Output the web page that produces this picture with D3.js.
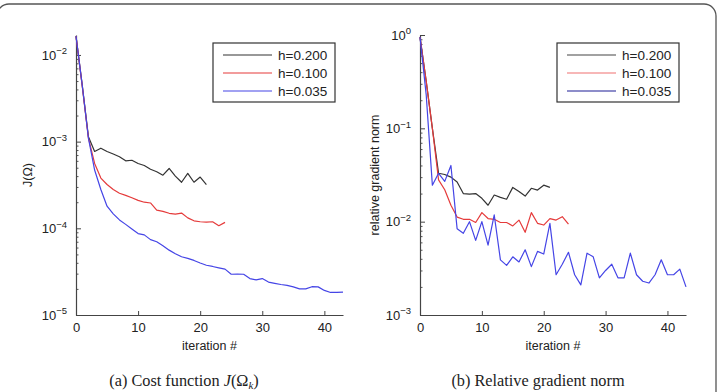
<!DOCTYPE html>
<html>
<head>
<meta charset="utf-8">
<script src="https://cdn.jsdelivr.net/npm/d3@7"></script>
<style>
  body { margin: 0; background: #fff; }
  svg text { font-family: "Liberation Sans", Arial, sans-serif; fill: #222; }
  .caption { font-family: "Liberation Serif", "DejaVu Serif", serif; font-size: 16.3px; }
</style>
</head>
<body>
<svg id="fig"></svg>
<script>
// iteration values start at 0 for every series
const legendLabels = ["h=0.200", "h=0.100", "h=0.035"];
const xTicks = [0, 10, 20, 30, 40];

const costH200 = [0.0165, 0.0045, 0.00114, 0.00077, 0.00084, 0.00077, 0.00072, 0.00067, 0.0006, 0.00061,
  0.00056, 0.00053, 0.00048, 0.00045, 0.00041, 0.00049, 0.0004, 0.00034, 0.00043, 0.00034, 0.00039, 0.00032];
const costH100 = [0.0165, 0.0044, 0.0011, 0.00056, 0.00038, 0.00032, 0.00028, 0.000254, 0.00024, 0.000225,
  0.00021, 0.0002, 0.000196, 0.000162, 0.000157, 0.000149, 0.000146, 0.00015, 0.000132, 0.000122,
  0.000119, 0.000118, 0.000119, 0.000107, 0.000117];
const costH035 = [0.0165, 0.0045, 0.0011, 0.00047, 0.00028, 0.00018, 0.000147, 0.000125, 0.000111, 0.000098,
  0.000087, 0.000084, 0.000074, 0.00007, 0.000063, 0.000056, 0.000051, 0.000047, 0.000045, 0.0000426,
  0.0000398, 0.0000375, 0.0000363, 0.000035, 0.0000338, 0.0000295, 0.0000296, 0.0000295, 0.0000263, 0.0000254,
  0.0000263, 0.000024, 0.0000232, 0.0000225, 0.000022, 0.0000211, 0.00002, 0.00002, 0.0000212, 0.0000211,
  0.0000192, 0.0000182, 0.0000182, 0.0000184];

const gradH200 = [0.95, 0.32, 0.1, 0.033, 0.032, 0.030, 0.0266, 0.020, 0.0197, 0.020,
  0.0178, 0.015, 0.0193, 0.0182, 0.0174, 0.0233, 0.021, 0.0188, 0.0228, 0.0218, 0.0246, 0.0233];
const gradH100 = [0.95, 0.32, 0.1, 0.028, 0.022, 0.015, 0.0112, 0.0106, 0.0106, 0.0098,
  0.0125, 0.0108, 0.0106, 0.0098, 0.0098, 0.009, 0.0104, 0.0077, 0.0125, 0.0096,
  0.0092, 0.0108, 0.0104, 0.0113, 0.0094];
const gradH035 = [0.95, 0.23, 0.0246, 0.033, 0.027, 0.040, 0.0084, 0.0075, 0.010, 0.0063,
  0.010, 0.0056, 0.0118, 0.0039, 0.0034, 0.0042, 0.0037, 0.005, 0.0033, 0.0048,
  0.0045, 0.0096, 0.0027, 0.0035, 0.0047, 0.0027, 0.0021, 0.0046, 0.0042, 0.0025,
  0.003, 0.0035, 0.0025, 0.0025, 0.0046, 0.0027, 0.0023, 0.0022, 0.0027, 0.0039,
  0.0027, 0.0027, 0.0031, 0.002];

const width = 719, height = 392;
const svg = d3.select("#fig").attr("width", width).attr("height", height);

// outer rounded frame (left edge is cut off in the reference)
svg.append("rect")
  .attr("x", -3).attr("y", 4).attr("width", 719).attr("height", 420)
  .attr("rx", 12).attr("fill", "none").attr("stroke", "#555").attr("stroke-width", 1.3);

makePanel = (opts) => {
  const g = svg.append("g");
  const x = d3.scaleLinear().domain([0, 43]).range(opts.xRange);
  const y = d3.scaleLog().domain(opts.yDomain).range([315, 35]);
  const exps = d3.range(opts.expMin, opts.expMax + 1);
  const majors = exps.map(e => Math.pow(10, e));
  const minors = [];
  exps.forEach(e => d3.range(2, 10).forEach(m => {
    const v = m * Math.pow(10, e);
    if (v <= opts.yDomain[1]) minors.push(v);
  }));

  // minor ticks on log axis
  g.append("g")
    .attr("transform", `translate(${opts.xRange[0]},0)`)
    .call(d3.axisLeft(y).tickValues(minors).tickSize(-2.5).tickSizeOuter(0).tickFormat(""))
    .call(a => a.select(".domain").remove())
    .call(a => a.selectAll("line").attr("stroke", "#555"));

  // y axis with 10^k labels
  g.append("g")
    .attr("transform", `translate(${opts.xRange[0]},0)`)
    .call(d3.axisLeft(y).tickValues(majors).tickSize(-5).tickSizeOuter(0).tickPadding(18))
    .call(a => a.select(".domain").attr("stroke", "#444").attr("stroke-width", 1.2))
    .call(a => a.selectAll("line").attr("stroke", "#444"))
    .call(a => a.selectAll("text").each(function(d) {
      const t = d3.select(this).text("").attr("font-size", 13).attr("fill", "#222")
        .attr("text-anchor", "end").attr("x", -9);
      t.append("tspan").text("10");
      t.append("tspan").attr("dy", "-0.55em").attr("font-size", 9.5).text(String(Math.round(Math.log10(d))).replace("-", "\u2212"));
    }));

  // x axis
  g.append("g")
    .attr("transform", "translate(0,315)")
    .call(d3.axisBottom(x).tickValues(xTicks).tickSize(-4).tickSizeOuter(0).tickPadding(8))
    .call(a => a.select(".domain").attr("stroke", "#444").attr("stroke-width", 1.2))
    .call(a => a.selectAll("line").attr("stroke", "#444"))
    .call(a => a.selectAll("text").attr("font-size", 13).attr("fill", "#222"));

  g.append("text")
    .attr("x", (opts.xRange[0] + opts.xRange[1]) / 2).attr("y", 350)
    .attr("text-anchor", "middle").attr("font-size", 12.5)
    .text("iteration #");

  g.append("text")
    .attr("transform", `translate(${opts.yLabelX},175) rotate(-90)`)
    .attr("text-anchor", "middle").attr("font-size", 12.5)
    .text(opts.yLabel);

  const line = d3.line().x((d, i) => x(i)).y(d => y(d));
  opts.series.forEach((s, k) => {
    g.append("path").datum(s)
      .attr("fill", "none").attr("stroke", opts.colors[k]).attr("stroke-width", 1.2)
      .attr("stroke-linejoin", "round").attr("d", line);
  });

  // legend
  const lg = g.append("g").attr("transform", `translate(${opts.legendX},43)`);
  lg.append("rect").attr("width", 122).attr("height", 59)
    .attr("fill", "#fff").attr("stroke", "#333").attr("stroke-width", 1.2);
  legendLabels.forEach((lab, k) => {
    const yy = 12 + k * 18;
    lg.append("line").attr("x1", 10).attr("x2", 59).attr("y1", yy).attr("y2", yy)
      .attr("stroke", opts.legendColors[k]).attr("stroke-width", 1.2);
    lg.append("text").attr("x", 65).attr("y", yy).attr("dy", "0.35em")
      .attr("font-size", 13.5).text(lab);
  });

  svg.append("text").attr("class", "caption")
    .attr("x", opts.captionX).attr("y", 386).attr("text-anchor", "middle")
    .html(opts.caption);
};

makePanel({
  xRange: [76, 343], yDomain: [1e-5, Math.pow(10, -1.77)], expMin: -5, expMax: -2,
  series: [costH200, costH100, costH035],
  colors: ["#333", "#e53b3b", "#4545e6"],
  legendColors: ["#333", "#e53b3b", "#4545e6"],
  yLabel: "J(\u03A9)", yLabelX: 32, legendX: 213,
  captionX: 184,
  caption: '(a) Cost function <tspan font-style="italic">J</tspan>(\u03A9<tspan font-style="italic" font-size="11" dy="3">k</tspan><tspan dy="-3">)</tspan>'
});

makePanel({
  xRange: [420, 686], yDomain: [1e-3, 1], expMin: -3, expMax: 0,
  series: [gradH200, gradH100, gradH035],
  colors: ["#333", "#e53b3b", "#4545e6"],
  legendColors: ["#444", "#f07070", "#1c1c96"],
  yLabel: "relative gradient norm", yLabelX: 379, legendX: 557,
  captionX: 538,
  caption: "(b) Relative gradient norm"
});
</script>
</body>
</html>
